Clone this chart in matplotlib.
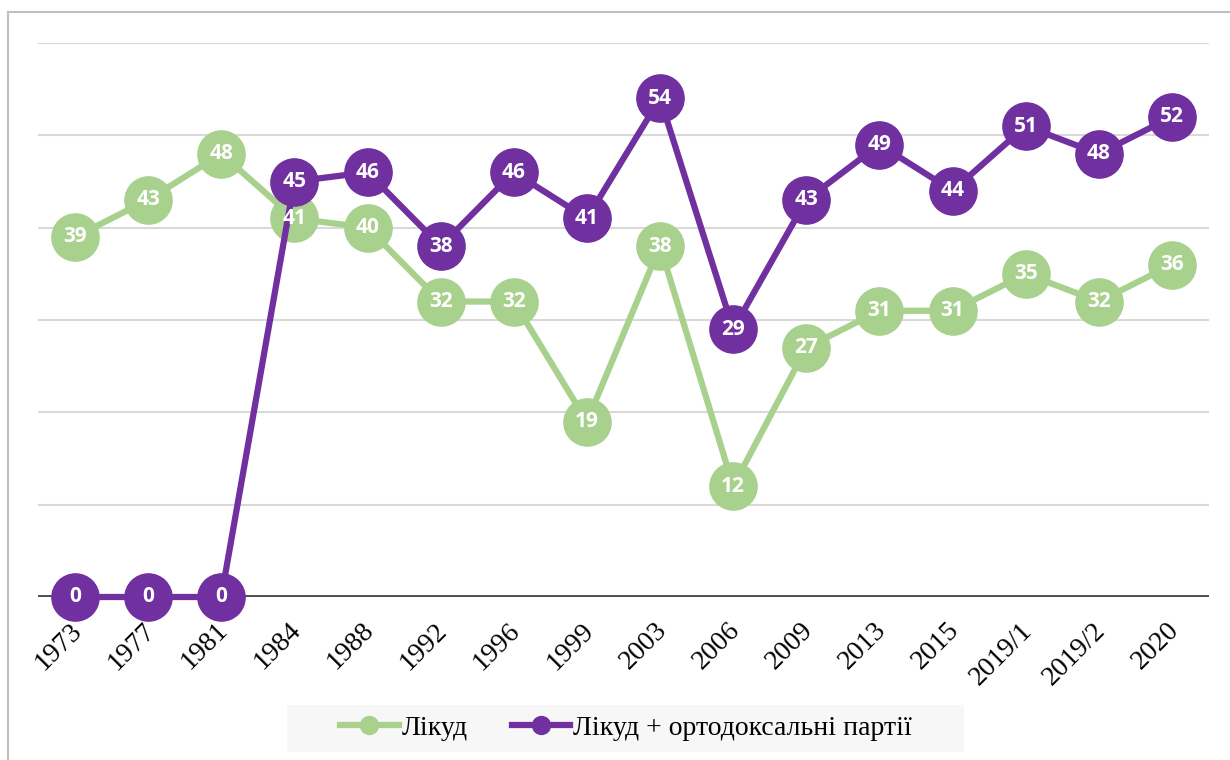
import matplotlib
matplotlib.use('Agg')
from matplotlib import pyplot as plt
from matplotlib.patches import Rectangle
from matplotlib.transforms import ScaledTranslation

years = ['1973', '1977', '1981', '1984', '1988', '1992', '1996', '1999',
         '2003', '2006', '2009', '2013', '2015', '2019/1', '2019/2', '2020']
likud = [39, 43, 48, 41, 40, 32, 32, 19, 38, 12, 27, 31, 31, 35, 32, 36]
likud_orth = [0, 0, 0, 45, 46, 38, 46, 41, 54, 29, 43, 49, 44, 51, 48, 52]

green = '#A9D18E'
purple = '#7030A0'

fig = plt.figure(figsize=(12.3, 7.6), dpi=100)
ax = fig.add_axes([38.4 / 1230, 1 - 597 / 760, (1208.6 - 38.4) / 1230, (597 - 43) / 760])

# outer frame like the exported chart area
fig.patches.append(Rectangle((8 / 1230, -0.05), 1.1, 1 - 12 / 760 + 0.05,
                             transform=fig.transFigure, fill=False,
                             edgecolor='#BFBFBF', linewidth=1.5))
# legend background
fig.patches.append(Rectangle((287 / 1230, 1 - 752 / 760), 677 / 1230, 47 / 760,
                             transform=fig.transFigure, facecolor='#F7F7F7',
                             edgecolor='none', zorder=0))

x = list(range(len(years)))
ax.plot(x, likud, color=green, linewidth=4.5, marker='o', markersize=34,
        label='Лікуд', zorder=3, clip_on=False)
ax.plot(x, likud_orth, color=purple, linewidth=4.5, marker='o', markersize=34,
        label='Лікуд + ортодоксальні партії', zorder=4, clip_on=False)

for series in (likud, likud_orth):
    for i, v in enumerate(series):
        ax.text(i, v, str(v), ha='center', va='center', color='white',
                fontsize=15, fontweight='bold', family='Open Sans',
                zorder=6, clip_on=False)

ax.set_xlim(-0.5, len(years) - 0.5)
ax.set_ylim(0, 60)
ax.set_yticks(range(10, 61, 10))
ax.set_yticklabels([])
ax.tick_params(axis='y', length=0)
ax.grid(axis='y', color='#D9D9D9', linewidth=1.5)
ax.set_axisbelow(True)
ax.axhline(0, color='#4D4D4D', linewidth=3.5, zorder=2)
for s in ax.spines.values():
    s.set_visible(False)

ax.set_xticks(x)
ax.set_xticklabels(years, rotation=45, ha='right', va='top',
                   rotation_mode='anchor', family='Liberation Serif', fontsize=20)
ax.tick_params(axis='x', length=0, pad=15)
shift = ScaledTranslation(-6 / 100, 0, fig.dpi_scale_trans)
for lbl in ax.get_xticklabels():
    lbl.set_transform(lbl.get_transform() + shift)

leg = fig.legend(loc='center', bbox_to_anchor=(626 / 1230, 1 - 728 / 760),
                 ncol=2, frameon=False,
                 markerscale=0.38, handlelength=2.1, handletextpad=0.1,
                 columnspacing=1.6,
                 prop={'family': 'Liberation Serif', 'size': 20})

fig.savefig('out.png', dpi=100)
